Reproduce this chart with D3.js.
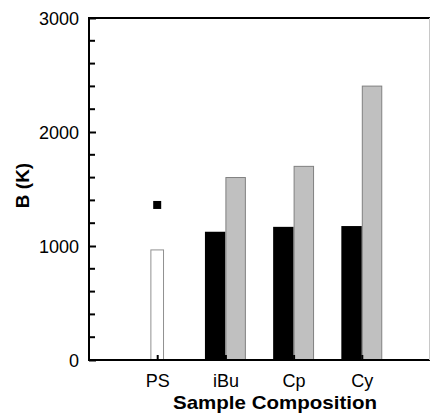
<!DOCTYPE html>
<html>
<head>
<meta charset="utf-8">
<script src="https://cdn.jsdelivr.net/npm/d3@7/dist/d3.min.js"></script>
<style>
  html, body { margin: 0; padding: 0; background: #fff; }
  svg { display: block; }
  text { font-family: "Liberation Sans", Arial, sans-serif; fill: #000; }
</style>
</head>
<body>
<svg id="chart" width="430" height="416"></svg>
<script>
// Sample compositions along the x axis
const categories = ["PS", "iBu", "Cp", "Cy"];
// B (K) values per composition (null where absent)
const blackValues = [null, 1125, 1168, 1175];
const grayValues  = [null, 1605, 1703, 2407];
const openValues  = [970, null, null, null];
const pointValues = [1360, null, null, null];
// Y axis labels
const yMajorTicks = [0, 1000, 2000, 3000];
const yMinorTicks = [200, 400, 600, 800, 1200, 1400, 1600, 1800, 2200, 2400, 2600, 2800];

const svg = d3.select("#chart");
const plotLeft = 89, plotRight = 430, plotTop = 18, plotBottom = 360;

const x = d3.scaleLinear().domain([0, 5]).range([plotLeft, plotRight]);
const y = d3.scaleLinear().domain([0, 3000]).range([plotBottom, plotTop]);

const pairW = 0.3;   // width of each bar in a pair (category units)
const openW = 0.2;   // width of the single open bar

// Black bars (left of category)
svg.append("g").selectAll("rect")
  .data(categories.map((c, i) => ({ i, v: blackValues[i] })).filter(d => d.v != null))
  .join("rect")
  .attr("x", d => x(d.i + 1 - pairW))
  .attr("width", d => x(pairW) - x(0))
  .attr("y", d => y(d.v))
  .attr("height", d => y(0) - y(d.v))
  .attr("fill", "#000");

// Gray bars (right of category)
svg.append("g").selectAll("rect")
  .data(categories.map((c, i) => ({ i, v: grayValues[i] })).filter(d => d.v != null))
  .join("rect")
  .attr("x", d => x(d.i + 1) + 0.5)
  .attr("width", d => x(pairW) - x(0) - 1)
  .attr("y", d => y(d.v) + 0.5)
  .attr("height", d => y(0) - y(d.v))
  .attr("fill", "#c0c0c0")
  .attr("stroke", "#808080")
  .attr("stroke-width", 1);

// Open bar
svg.append("g").selectAll("rect")
  .data(categories.map((c, i) => ({ i, v: openValues[i] })).filter(d => d.v != null))
  .join("rect")
  .attr("x", d => x(d.i + 1 - openW / 2) + 0.5)
  .attr("width", d => x(openW) - x(0) - 1)
  .attr("y", d => y(d.v) + 0.5)
  .attr("height", d => y(0) - y(d.v))
  .attr("fill", "#fff")
  .attr("stroke", "#909090")
  .attr("stroke-width", 1);

// Square markers
svg.append("g").selectAll("rect")
  .data(categories.map((c, i) => ({ i, v: pointValues[i] })).filter(d => d.v != null))
  .join("rect")
  .attr("x", d => x(d.i + 1) - 4)
  .attr("y", d => y(d.v) - 4)
  .attr("width", 8)
  .attr("height", 8)
  .attr("fill", "#000");

// Y axis: major ticks with labels, pointing inward
const yAxis = svg.append("g")
  .attr("transform", `translate(${plotLeft},0)`)
  .call(d3.axisLeft(y).tickValues(yMajorTicks).tickFormat(d3.format("d"))
    .tickSizeInner(-7).tickSizeOuter(0).tickPadding(10));
yAxis.select(".domain").remove();
yAxis.selectAll(".tick line").attr("stroke", "#000").attr("stroke-width", 2);
yAxis.selectAll(".tick text")
  .attr("x", -10)
  .style("font-size", "18px")
  .attr("dy", "0.36em");

// Y minor ticks
svg.append("g").selectAll("line")
  .data(yMinorTicks)
  .join("line")
  .attr("x1", plotLeft).attr("x2", plotLeft + 6)
  .attr("y1", d => y(d)).attr("y2", d => y(d))
  .attr("stroke", "#000").attr("stroke-width", 2);

// X axis: category ticks pointing inward
const xAxis = svg.append("g")
  .attr("transform", `translate(0,${plotBottom})`)
  .call(d3.axisBottom(x).tickValues([1, 2, 3, 4])
    .tickFormat(d => categories[d - 1])
    .tickSizeInner(-5).tickSizeOuter(0).tickPadding(14));
xAxis.select(".domain").remove();
xAxis.selectAll(".tick line").attr("stroke", "#000").attr("stroke-width", 2);
xAxis.selectAll(".tick text").style("font-size", "18px");

// Frame lines
svg.append("line").attr("x1", plotLeft).attr("x2", plotRight).attr("y1", plotBottom).attr("y2", plotBottom)
  .attr("stroke", "#000").attr("stroke-width", 2);
svg.append("line").attr("x1", plotLeft).attr("x2", plotLeft).attr("y1", plotTop - 1).attr("y2", plotBottom + 1)
  .attr("stroke", "#000").attr("stroke-width", 2);
svg.append("line").attr("x1", plotLeft).attr("x2", plotRight).attr("y1", plotTop).attr("y2", plotTop)
  .attr("stroke", "#000").attr("stroke-width", 2);
svg.append("line").attr("x1", 429.5).attr("x2", 429.5).attr("y1", plotTop).attr("y2", plotBottom)
  .attr("stroke", "#c8c8c8").attr("stroke-width", 1);

// Axis titles
svg.append("text")
  .attr("transform", "translate(29,185.5) rotate(-90)")
  .attr("text-anchor", "middle")
  .style("font-size", "19px").style("font-weight", "bold")
  .text("B (K)");

svg.append("text")
  .attr("x", 275).attr("y", 409)
  .attr("text-anchor", "middle")
  .attr("textLength", 204)
  .attr("lengthAdjust", "spacingAndGlyphs")
  .style("font-size", "19px").style("font-weight", "bold")
  .text("Sample Composition");
</script>
</body>
</html>
